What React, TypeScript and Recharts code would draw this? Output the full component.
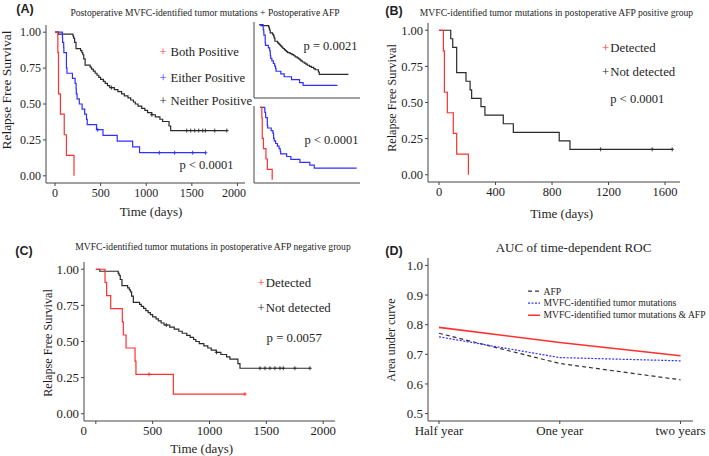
import React from 'react';
import { ComposedChart, Line, Scatter, XAxis, YAxis } from 'recharts';

const SERIF = '"Liberation Serif", "Times New Roman", serif';
const SANS = '"Liberation Sans", Arial, sans-serif';
const RED = '#FF3030';
const BLUE = '#3030FF';
const BLACK = '#2a2a2a';
const AXIS = '#444';
const TXT = '#1e1e1e';

type P = { t: number; s: number };

// ---- Kaplan-Meier step data (time in days, survival) ----
const bothPositive: P[] = [
  { t: 0, s: 1 }, { t: 31, s: 0.857 }, { t: 38, s: 0.571 }, { t: 59, s: 0.429 },
  { t: 101, s: 0.286 }, { t: 125, s: 0.143 }, { t: 208, s: 0 },
];
const eitherPositive: P[] = [
  { t: 0, s: 1 }, { t: 81, s: 0.964 }, { t: 83, s: 0.929 }, { t: 95, s: 0.893 }, { t: 97, s: 0.857 },
  { t: 125, s: 0.75 }, { t: 131, s: 0.714 }, { t: 191, s: 0.679 }, { t: 220, s: 0.643 },
  { t: 231, s: 0.607 }, { t: 233, s: 0.571 }, { t: 242, s: 0.536 }, { t: 266, s: 0.5 },
  { t: 297, s: 0.464 }, { t: 325, s: 0.429 }, { t: 345, s: 0.393 }, { t: 353, s: 0.357 },
  { t: 455, s: 0.321 }, { t: 526, s: 0.281 }, { t: 682, s: 0.241 }, { t: 851, s: 0.201 },
  { t: 927, s: 0.161 }, { t: 1651, s: 0.161 },
];
const eitherCensor: P[] = [
  { t: 468, s: 0.321 }, { t: 1144, s: 0.161 }, { t: 1312, s: 0.161 }, { t: 1509, s: 0.161 }, { t: 1651, s: 0.161 },
];
const neitherPositive: P[] = [
  { t: 0, s: 1 }, { t: 35, s: 0.986 }, { t: 197, s: 0.972 }, { t: 205, s: 0.957 }, { t: 215, s: 0.929 },
  { t: 230, s: 0.886 }, { t: 280, s: 0.871 }, { t: 295, s: 0.857 }, { t: 305, s: 0.843 },
  { t: 315, s: 0.814 }, { t: 330, s: 0.771 }, { t: 385, s: 0.757 }, { t: 400, s: 0.743 },
  { t: 420, s: 0.729 }, { t: 440, s: 0.714 }, { t: 460, s: 0.7 }, { t: 480, s: 0.686 },
  { t: 500, s: 0.671 }, { t: 530, s: 0.657 }, { t: 550, s: 0.643 }, { t: 575, s: 0.628 },
  { t: 600, s: 0.614 }, { t: 650, s: 0.6 }, { t: 690, s: 0.586 }, { t: 730, s: 0.571 },
  { t: 760, s: 0.557 }, { t: 800, s: 0.543 }, { t: 830, s: 0.528 }, { t: 860, s: 0.514 },
  { t: 880, s: 0.5 }, { t: 910, s: 0.485 }, { t: 950, s: 0.47 }, { t: 985, s: 0.455 },
  { t: 1015, s: 0.44 }, { t: 1060, s: 0.425 }, { t: 1100, s: 0.41 }, { t: 1150, s: 0.394 },
  { t: 1180, s: 0.378 }, { t: 1250, s: 0.347 }, { t: 1268, s: 0.315 }, { t: 1884, s: 0.315 },
];
const neitherCensor: P[] = [
  { t: 620, s: 0.614 }, { t: 1062, s: 0.425 }, { t: 1444, s: 0.315 }, { t: 1488, s: 0.315 },
  { t: 1532, s: 0.315 }, { t: 1576, s: 0.315 }, { t: 1620, s: 0.315 }, { t: 1649, s: 0.315 },
  { t: 1751, s: 0.315 }, { t: 1884, s: 0.315 },
];
const afpPosDetected: P[] = bothPositive;
const afpPosNotDetected: P[] = [
  { t: 0, s: 1 }, { t: 83, s: 0.941 }, { t: 97, s: 0.882 }, { t: 125, s: 0.706 }, { t: 191, s: 0.647 },
  { t: 220, s: 0.588 }, { t: 231, s: 0.529 }, { t: 297, s: 0.471 }, { t: 325, s: 0.412 },
  { t: 455, s: 0.353 }, { t: 526, s: 0.294 }, { t: 851, s: 0.235 }, { t: 927, s: 0.176 }, { t: 1651, s: 0.176 },
];
const afpPosNotDetectedCensor: P[] = [{ t: 1144, s: 0.176 }, { t: 1509, s: 0.176 }, { t: 1651, s: 0.176 }];
const afpNegDetected: P[] = [
  { t: 0, s: 1 }, { t: 81, s: 0.909 }, { t: 95, s: 0.818 }, { t: 131, s: 0.727 }, { t: 233, s: 0.636 },
  { t: 242, s: 0.545 }, { t: 266, s: 0.455 }, { t: 345, s: 0.364 }, { t: 353, s: 0.273 },
  { t: 682, s: 0.136 }, { t: 1312, s: 0.136 },
];
const afpNegDetectedCensor: P[] = [{ t: 468, s: 0.273 }, { t: 1312, s: 0.136 }];

const kmTicksA = [0, 500, 1000, 1500, 2000];
const kmTicksB = [0, 400, 800, 1200, 1600];
const survTicks = [0, 0.25, 0.5, 0.75, 1];

// ---- AUC data ----
const aucCategories = ['Half year', 'One year', 'two years'];
const aucAFP = [0.771, 0.669, 0.614];
const aucMVFC = [0.759, 0.689, 0.678];
const aucCombined = [0.791, 0.74, 0.695];
const aucTicks = [0.5, 0.6, 0.7, 0.8, 0.9, 1.0];

type Series = { data: P[]; color: string; censor?: P[] };

const plusShape = (color: string) => (props: any) => {
  const { cx, cy } = props;
  if (cx == null || cy == null) return <g />;
  return <path d={`M${cx - 1.8},${cy}H${cx + 1.8}M${cx},${cy - 2}V${cy + 2}`} stroke={color} strokeWidth={0.9} fill="none" />;
};

const xTick = (size: number, fmt: (v: number) => string, shift: Record<string, number> = {}) => (props: any) => {
  const { x, y, payload } = props;
  const label = fmt(payload.value);
  return (
    <text x={x + (shift[label] || 0)} y={y} dy="0.71em" textAnchor="middle" fontSize={size} fontFamily={SERIF} fill={TXT}>
      {label}
    </text>
  );
};

type KMProps = {
  left: number; top: number; width: number; height: number;
  margin: { top: number; right: number; left: number; bottom: number };
  yW: number; xH: number; xDomain: [number, number]; yDomain: [number, number];
  xTicks?: number[]; series: Series[]; showTicks: boolean; fs?: number; shift?: Record<string, number>;
};

const KM = (p: KMProps) => (
  <div style={{ position: 'absolute', left: p.left, top: p.top }}>
    <ComposedChart width={p.width} height={p.height} margin={p.margin}>
      <XAxis
        type="number" dataKey="t" domain={p.xDomain} allowDataOverflow ticks={p.xTicks}
        height={p.xH} stroke={AXIS} tickSize={p.showTicks ? 3 : 0} tickMargin={2}
        tick={p.showTicks ? xTick(p.fs || 12, (v) => String(v), p.shift) : false}
        tickLine={p.showTicks ? { stroke: AXIS } : false}
      />
      <YAxis
        type="number" domain={p.yDomain} allowDataOverflow ticks={p.showTicks ? survTicks : []}
        width={p.yW} stroke={AXIS} tickSize={p.showTicks ? 3 : 0} tickMargin={2}
        tick={p.showTicks ? { fontSize: p.fs || 12, fontFamily: SERIF, fill: TXT } : false}
        tickLine={p.showTicks ? { stroke: AXIS } : false}
        tickFormatter={(v: number) => v.toFixed(2)}
      />
      {p.series.map((s, i) => (
        <Line key={'l' + i} data={s.data} dataKey="s" type="stepAfter" stroke={s.color} strokeWidth={1.2}
          dot={false} isAnimationActive={false} />
      ))}
      {p.series.filter((s) => s.censor).map((s, i) => (
        <Scatter key={'c' + i} data={s.censor} dataKey="s" shape={plusShape(s.color)} isAnimationActive={false} />
      ))}
    </ComposedChart>
  </div>
);

const Txt = (props: { x: number; y: number; size: number; children: React.ReactNode; anchor?: 'start' | 'middle'; rotate?: boolean; bold?: boolean; sans?: boolean }) => (
  <div
    style={{
      position: 'absolute', left: props.x, top: props.y,
      transform: `translate(${props.anchor === 'start' ? '0' : '-50%'}, -50%)${props.rotate ? ' rotate(-90deg)' : ''}`,
      fontSize: props.size, fontFamily: props.sans ? SANS : SERIF, fontWeight: props.bold ? 700 : 400,
      whiteSpace: 'nowrap', color: TXT, lineHeight: 1,
    }}
  >
    {props.children}
  </div>
);

const LegendItem = (props: { x: number; y: number; size: number; color: string; label: string; gap: number }) => (
  <Txt x={props.x} y={props.y} size={props.size} anchor="start">
    <span style={{ color: props.color }}>+</span>
    <span style={{ marginLeft: props.gap }}>{props.label}</span>
  </Txt>
);

const aucRows = aucCategories.map((c, i) => ({ i, afp: aucAFP[i], mvfc: aucMVFC[i], combo: aucCombined[i] }));

const App = () => (
  <div style={{ position: 'absolute', left: 0, top: 0, width: 709, height: 456, background: '#fff', overflow: 'hidden' }}>
    {/* Panel A */}
    <KM left={0} top={0} width={250} height={220} margin={{ top: 25, right: 5, left: 0, bottom: 0 }} yW={46} xH={37}
      xDomain={[-99, 2083]} yDomain={[-0.05, 1.05]} xTicks={kmTicksA} showTicks fs={12}
      series={[
        { data: neitherPositive, color: BLACK, censor: neitherCensor },
        { data: eitherPositive, color: BLUE, censor: eitherCensor },
        { data: bothPositive, color: RED },
      ]} />
    <KM left={252} top={20} width={110} height={80} margin={{ top: 2, right: 2, left: 0, bottom: 0 }} yW={2} xH={2}
      xDomain={[-112, 2129]} yDomain={[-0.012, 1.037]} showTicks={false}
      series={[
        { data: neitherPositive, color: BLACK },
        { data: eitherPositive, color: BLUE },
      ]} />
    <KM left={252} top={104} width={110} height={81} margin={{ top: 2, right: 2, left: 0, bottom: 0 }} yW={2} xH={2}
      xDomain={[-103, 1709]} yDomain={[-0.045, 1.018]} showTicks={false}
      series={[
        { data: eitherPositive, color: BLUE },
        { data: bothPositive, color: RED },
      ]} />
    <Txt x={25} y={9} size={12.5} bold sans>(A)</Txt>
    <Txt x={205} y={13} size={9.6}>Postoperative MVFC-identified tumor mutations + Postoperative AFP</Txt>
    <Txt x={7} y={90} size={13.5} rotate>Relapse Free Survival</Txt>
    <Txt x={151} y={211} size={13}>Time (days)</Txt>
    <LegendItem x={159.5} y={52} size={12.6} color={RED} label="Both Positive" gap={4} />
    <LegendItem x={159.5} y={78} size={12.6} color={BLUE} label="Either Positive" gap={4} />
    <LegendItem x={159.5} y={101} size={12.6} color={BLACK} label="Neither Positive" gap={4} />
    <Txt x={206.5} y={165} size={12.5}>p &lt; 0.0001</Txt>
    <Txt x={330.5} y={46} size={12.5}>p = 0.0021</Txt>
    <Txt x={331.5} y={140} size={12.5}>p &lt; 0.0001</Txt>

    {/* Panel B */}
    <KM left={360} top={0} width={349} height={220} margin={{ top: 23, right: 29, left: 0, bottom: 0 }} yW={68} xH={38}
      xDomain={[-78, 1706]} yDomain={[-0.05, 1.05]} xTicks={kmTicksB} showTicks fs={12.5}
      series={[
        { data: afpPosNotDetected, color: BLACK, censor: afpPosNotDetectedCensor },
        { data: afpPosDetected, color: RED },
      ]} />
    <Txt x={394} y={11} size={12.5} bold sans>(B)</Txt>
    <Txt x={556.5} y={13} size={9.6}>MVFC-identified tumor mutations in postoperative AFP positive group</Txt>
    <Txt x={391.7} y={98.3} size={12.2} rotate>Relapse Free Survival</Txt>
    <Txt x={561.7} y={212.7} size={13}>Time (days)</Txt>
    <LegendItem x={602} y={47.7} size={12.8} color={RED} label="Detected" gap={1} />
    <LegendItem x={602} y={71.7} size={12.8} color={BLACK} label="Not detected" gap={1} />
    <Txt x={637.3} y={99.3} size={12.5}>p &lt; 0.0001</Txt>

    {/* Panel C */}
    <KM left={0} top={220} width={360} height={236} margin={{ top: 42, right: 25, left: 0, bottom: 0 }} yW={84} xH={35}
      xDomain={[-104, 2104]} yDomain={[-0.05, 1.05]} xTicks={kmTicksA} showTicks fs={12.8} shift={{ '0': -12 }}
      series={[
        { data: neitherPositive, color: BLACK, censor: neitherCensor },
        { data: afpNegDetected, color: RED, censor: afpNegDetectedCensor },
      ]} />
    <Txt x={24} y={251} size={12.5} bold sans>(C)</Txt>
    <Txt x={213} y={247.3} size={9.6}>MVFC-identified tumor mutations in postoperative AFP negative group</Txt>
    <Txt x={47.5} y={342.5} size={12.2} rotate>Relapse Free Survival</Txt>
    <Txt x={201.7} y={448.3} size={13}>Time (days)</Txt>
    <LegendItem x={257.5} y={283.3} size={12.8} color={RED} label="Detected" gap={1} />
    <LegendItem x={257.5} y={308.3} size={12.8} color={BLACK} label="Not detected" gap={1} />
    <Txt x={294.2} y={338.3} size={12.8}>p = 0.0057</Txt>

    {/* Panel D */}
    <div style={{ position: 'absolute', left: 360, top: 220 }}>
      <ComposedChart width={349} height={236} data={aucRows} margin={{ top: 38, right: 16, left: 0, bottom: 0 }}>
        <XAxis type="number" dataKey="i" domain={[-0.091, 2.103]} allowDataOverflow ticks={[0, 1, 2]}
          height={35} stroke={AXIS} tickSize={3} tickMargin={2} tickLine={{ stroke: AXIS }}
          tick={xTick(13, (v) => aucCategories[v])} />
        <YAxis type="number" domain={[0.475, 1.025]} allowDataOverflow ticks={aucTicks} width={68}
          stroke={AXIS} tickSize={3} tickMargin={2} tickLine={{ stroke: AXIS }}
          tick={{ fontSize: 13, fontFamily: SERIF, fill: TXT }} tickFormatter={(v: number) => v.toFixed(1)} />
        <Line dataKey="afp" type="linear" stroke="#333" strokeWidth={1.2} strokeDasharray="4 3" dot={false} isAnimationActive={false} />
        <Line dataKey="mvfc" type="linear" stroke={BLUE} strokeWidth={1.2} strokeDasharray="2 1.5" dot={false} isAnimationActive={false} />
        <Line dataKey="combo" type="linear" stroke={RED} strokeWidth={1.6} dot={false} isAnimationActive={false} />
      </ComposedChart>
    </div>
    <Txt x={394} y={250.5} size={12.5} bold sans>(D)</Txt>
    <Txt x={573.5} y={247} size={13}>AUC of time-dependent ROC</Txt>
    <Txt x={391} y={340} size={12} rotate>Area under curve</Txt>
    {[
      { label: 'AFP', color: '#333', dash: '4 3', w: 1.2, y: 291.7 },
      { label: 'MVFC-identified tumor mutations', color: BLUE, dash: '2 1.5', w: 1.2, y: 303.3 },
      { label: 'MVFC-identified tumor mutations & AFP', color: RED, dash: undefined, w: 1.6, y: 315 },
    ].map((e) => (
      <div key={e.label} style={{ position: 'absolute', left: 527, top: e.y, transform: 'translateY(-50%)', display: 'flex', alignItems: 'center', whiteSpace: 'nowrap' }}>
        <svg width={14} height={6}><line x1={1} y1={3} x2={13} y2={3} stroke={e.color} strokeWidth={e.w} strokeDasharray={e.dash} /></svg>
        <span style={{ marginLeft: 2.5, fontSize: 9.6, fontFamily: SERIF, color: TXT, lineHeight: 1 }}>{e.label}</span>
      </div>
    ))}
  </div>
);

export default App;
